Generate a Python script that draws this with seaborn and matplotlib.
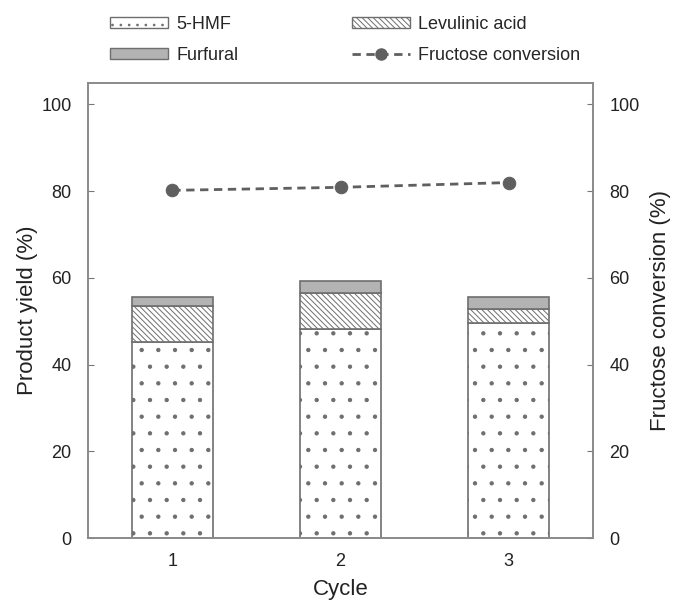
import matplotlib
matplotlib.use("Agg")
import matplotlib.pyplot as plt
import numpy as np
import pandas as pd
import seaborn as sns
from matplotlib.patches import Patch
from matplotlib.lines import Line2D

cycles = ["1", "2", "3"]
hmf = [45.2, 48.3, 49.6]
levulinic = [8.3, 8.3, 3.2]
furfural = [2.1, 2.7, 2.7]
conversion = [80.2, 80.9, 82.0]

sns.set_style("white")
plt.rcParams["font.family"] = ["Liberation Sans", "DejaVu Sans"]
plt.rcParams["hatch.color"] = "#707070"
plt.rcParams["hatch.linewidth"] = 0.7

df = pd.DataFrame({"Cycle": cycles, "hmf": hmf, "la": levulinic, "ff": furfural})
df["la_bottom"] = df["hmf"]
df["ff_bottom"] = df["hmf"] + df["la"]

edge = "#6e6e6e"
dots = "."
diag = "\\" * 6
txt = "#222222"

fig = plt.figure(figsize=(6.73, 6.0), dpi=100)
ax = fig.add_axes([0.131, 0.103, 0.750, 0.759])

sns.barplot(data=df, x="Cycle", y="hmf", color="white", edgecolor=edge,
            linewidth=1.2, hatch=dots, width=0.48, ax=ax)
sns.barplot(data=df, x="Cycle", y="la", bottom=df["la_bottom"], color="white",
            edgecolor=edge, linewidth=1.2, hatch=diag, width=0.48, ax=ax)
sns.barplot(data=df, x="Cycle", y="ff", bottom=df["ff_bottom"], color="#b3b3b3",
            edgecolor=edge, linewidth=1.2, width=0.48, ax=ax)

ax.set_xlim(-0.5, 2.5)
ax.set_ylim(0, 105)
ax.set_yticks(np.arange(0, 101, 20))
ax.set_xlabel("Cycle", fontsize=16, color=txt, labelpad=6)
ax.set_ylabel("Product yield (%)", fontsize=16, color=txt, labelpad=2)
ax.tick_params(axis="both", labelsize=13, labelcolor=txt)
ax.tick_params(axis="y", direction="in", length=4, color="#777777", left=True, pad=12)
ax.tick_params(axis="x", length=0, pad=11)

ax2 = ax.twinx()
conv_df = pd.DataFrame({"x": [0, 1, 2], "conv": conversion})
sns.lineplot(data=conv_df, x="x", y="conv", ax=ax2, color="#5f5f5f",
             linestyle=(0, (3, 2)), linewidth=2, marker="o", markersize=9,
             markeredgecolor="#5f5f5f")
ax2.set_ylim(0, 105)
ax2.set_yticks(np.arange(0, 101, 20))
ax2.set_ylabel("Fructose conversion (%)", fontsize=16, color=txt, labelpad=7)
ax2.tick_params(axis="y", labelsize=13, labelcolor=txt, direction="in",
                length=4, right=True, color="#777777", pad=12)
ax2.set_xlabel("")

for a in (ax, ax2):
    for s in a.spines.values():
        s.set_color("#8a8a8a")
        s.set_linewidth(1.2)
        s.set_visible(True)

handles = [
    Patch(facecolor="white", edgecolor=edge, hatch="..", label="5-HMF"),
    Patch(facecolor="#b3b3b3", edgecolor=edge, label="Furfural"),
    Patch(facecolor="white", edgecolor=edge, hatch=diag, label="Levulinic acid"),
    Line2D([0], [0], color="#5f5f5f", linestyle=(0, (3, 2)), linewidth=2,
           marker="o", markersize=8, label="Fructose conversion"),
]
fig.legend(handles=handles, ncol=2, loc="upper left", bbox_to_anchor=(0.140, 1.0),
           frameon=False, fontsize=13, handlelength=3.2, handleheight=0.55,
           columnspacing=6.3, labelspacing=0.75, handletextpad=0.45)

fig.savefig("out.png", dpi=100)
